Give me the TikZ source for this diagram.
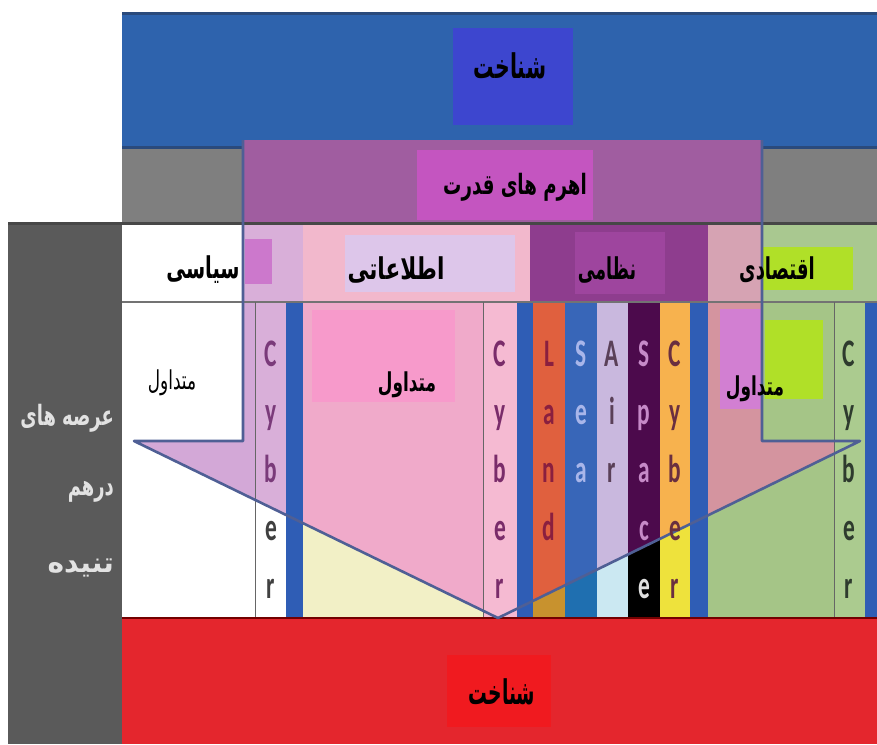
\documentclass[tikz,border=0pt]{standalone}
\usepackage{fontspec}
\usepackage{graphicx}
\setmainfont{Carlito}
\newfontfamily\fa[Script=Arabic]{DejaVu Sans}
\newfontfamily\lat{Carlito}
\TeXXeTstate=1
\newcommand\fat[3]{\scalebox{#2}[1]{\fontsize{#1}{#1}\selectfont\fa\bfseries #3}}
\newcommand\far[3]{\scalebox{#2}[1]{\fontsize{#1}{#1}\selectfont\fa #3}}
\definecolor{bandblue}{HTML}{2E63AD}
\definecolor{bandline}{HTML}{2A4A7C}
\definecolor{hiblue}{HTML}{3D46CF}
\definecolor{bandgray}{HTML}{7F7F7F}
\definecolor{grayin}{HTML}{A05DA0}
\definecolor{himag}{HTML}{C455C0}
\definecolor{darkcol}{HTML}{5A5A5A}
\definecolor{hdrA}{HTML}{D9AFD9}
\definecolor{hdrInfo}{HTML}{F2B8CC}
\definecolor{hdrMil}{HTML}{8E3D8E}
\definecolor{hdrMilHi}{HTML}{9E459E}
\definecolor{hdrEcon}{HTML}{A9C890}
\definecolor{hdrEconIn}{HTML}{D6A3B3}
\definecolor{lav}{HTML}{DDC6EA}
\definecolor{sqmag}{HTML}{CC78CC}
\definecolor{lime}{HTML}{B0E028}
\definecolor{inA}{HTML}{D3A8D7}
\definecolor{barblue}{HTML}{2F5DB5}
\definecolor{infoOut}{HTML}{F2F0C6}
\definecolor{infoIn}{HTML}{F0AACA}
\definecolor{hotpink}{HTML}{F79ACB}
\definecolor{cyPink}{HTML}{F5BAD2}
\definecolor{landOut}{HTML}{C8922E}
\definecolor{landIn}{HTML}{E0603E}
\definecolor{seaOut}{HTML}{1F6FB0}
\definecolor{seaIn}{HTML}{3866B8}
\definecolor{airOut}{HTML}{CBE8F2}
\definecolor{airIn}{HTML}{C9B8DE}
\definecolor{spaceOut}{HTML}{000000}
\definecolor{spaceIn}{HTML}{4C0A4C}
\definecolor{cybOut}{HTML}{EEE23C}
\definecolor{cybIn}{HTML}{F7B24E}
\definecolor{econOut}{HTML}{A5C587}
\definecolor{econIn}{HTML}{D4949F}
\definecolor{econMag}{HTML}{D27FD2}
\definecolor{cyGreen}{HTML}{ABCB8F}
\definecolor{redband}{HTML}{E4262D}
\definecolor{redhi}{HTML}{F01A1F}
\definecolor{outline}{HTML}{4F5F95}
\definecolor{lcPurple}{HTML}{7A3A7A}
\definecolor{lcGray}{HTML}{404040}
\definecolor{lMid}{HTML}{7A2C6A}
\definecolor{lLand}{HTML}{8A1F3F}
\definecolor{lSea}{HTML}{A9B6EA}
\definecolor{lAir}{HTML}{5A4058}
\definecolor{lSpace}{HTML}{C68AC8}
\definecolor{lSpaceE}{HTML}{E0E0E0}
\definecolor{lCyb}{HTML}{6A2F40}
\definecolor{lGreen}{HTML}{2E3B2E}
\definecolor{lefttxt}{HTML}{E2E2E2}
\begin{document}
\begin{tikzpicture}[x=1pt,y=-1pt,
  txt/.style={inner sep=0pt, text=black},
  lettr/.style={inner sep=0pt, anchor=base, font=\fontsize{39}{39}\selectfont\lat\bfseries},
  arrowline/.style={draw=outline, line width=2.6pt, line join=round}]
\useasboundingbox (0,0) rectangle (877,744);
\fill[white] (0,0) rectangle (877,744);
% top blue band
\fill[bandblue] (122,12) rectangle (877,147);
\fill[hiblue] (453,28) rectangle (573,125);
% gray band
\fill[bandgray] (122,147) rectangle (877,223);
% left dark column
\fill[darkcol] (8,223) rectangle (122,744);
% header row outside colours
\foreach \a/\b/\o in {122/303/white,303/530/hdrInfo,530/708/hdrMil,708/877/hdrEcon}
  {\fill[\o] (\a,223) rectangle (\b,302);}
% body row outside colours
\foreach \a/\b/\o in {122/255/white,255/286/white,286/303/barblue,303/483/infoOut,483/517/cyPink,517/533/barblue,533/565/landOut,565/597/seaOut,597/628/airOut,628/660/spaceOut,660/690/cybOut,690/708/barblue,708/834/econOut,834/865/cyGreen,865/877/barblue}
  {\fill[\o] (\a,302) rectangle (\b,618);}
% red band
\fill[redband] (122,618) rectangle (877,744);
\fill[redhi] (447,655) rectangle (551,727);
% inside of the arrow
\coordinate (aTL) at (243,140);
\coordinate (aTR) at (762,140);
\coordinate (aSR) at (762,441);
\coordinate (aHR) at (860,441);
\coordinate (aTip) at (498,618);
\coordinate (aHL) at (134,441);
\coordinate (aSL) at (243,441);
\begin{scope}
\clip (aTL) -- (aTR) -- (aSR) -- (aHR) -- (aTip) -- (aHL) -- (aSL) -- cycle;
\fill[grayin] (122,140) rectangle (877,223);
\foreach \a/\b/\i in {122/303/hdrA,303/530/hdrInfo,530/708/hdrMil,708/877/hdrEconIn}
  {\fill[\i] (\a,223) rectangle (\b,302);}
\fill[hdrMilHi] (575,232) rectangle (665,294);
\foreach \a/\b/\i in {122/255/inA,255/286/hdrA,286/303/barblue,303/483/infoIn,483/517/cyPink,517/533/barblue,533/565/landIn,565/597/seaIn,597/628/airIn,628/660/spaceIn,660/690/cybIn,690/708/barblue,708/834/econIn,834/865/cyGreen,865/877/barblue}
  {\fill[\i] (\a,302) rectangle (\b,618);}
\end{scope}
% highlights
\fill[himag] (417,150) rectangle (593,220);
\fill[sqmag] (245,239) rectangle (272,284);
\fill[lav] (345,235) rectangle (515,292);
\fill[lime] (762,247) rectangle (853,290);
\fill[hotpink] (312,310) rectangle (455,402);
\fill[econMag] (720,309) rectangle (762,409);
\fill[lime] (765,320) rectangle (823,399);
% separator lines
\draw[bandline, line width=3pt] (122,13) -- (877,13);
\draw[bandline, line width=3pt] (122,147) -- (243,147) (762,147) -- (877,147);
\draw[color=black!72, line width=3pt] (8,223) -- (877,223);
\draw[color=black!55, line width=2.6pt] (122,302) -- (877,302);
\draw[color=black!60, line width=0.8pt] (255,302) -- (255,618) (483,302) -- (483,618) (834,302) -- (834,618);
\draw[color=red!45!black, line width=1.5pt] (122,618) -- (877,618);
% arrow outline
\draw[arrowline] (aTL) -- (aSL) -- (aHL) -- (aTip) -- (aHR) -- (aSR) -- (aTR);
% vertical letters
\foreach \l/\c [count=\i] in {C/lcPurple,y/lcPurple,b/lcPurple,e/lcGray,r/lcGray}
  {\node[lettr, text=\c] (cyA\i) at (271,{366+58*(\i-1)}) {\scalebox{0.6}[1]{\l}};}
\foreach \l/\c [count=\i] in {C/lMid,y/lMid,b/lMid,e/lMid,r/lMid}
  {\node[lettr, text=\c] (cyB\i) at (500,{366+58*(\i-1)}) {\scalebox{0.6}[1]{\l}};}
\foreach \l/\c [count=\i] in {L/lLand,a/lLand,n/lLand,d/lLand}
  {\node[lettr, text=\c] (land\i) at (549,{366+58*(\i-1)}) {\scalebox{0.6}[1]{\l}};}
\foreach \l/\c [count=\i] in {S/lSea,e/lSea,a/lSea}
  {\node[lettr, text=\c] (sea\i) at (581,{366+58*(\i-1)}) {\scalebox{0.6}[1]{\l}};}
\foreach \l/\c [count=\i] in {A/lAir,i/lAir,r/lAir}
  {\node[lettr, text=\c] (air\i) at (612,{366+58*(\i-1)}) {\scalebox{0.6}[1]{\l}};}
\foreach \l/\c [count=\i] in {S/lSpace,p/lSpace,a/lSpace,c/lSpace,e/lSpaceE}
  {\node[lettr, text=\c] (space\i) at (644,{366+58*(\i-1)}) {\scalebox{0.6}[1]{\l}};}
\foreach \l/\c [count=\i] in {C/lCyb,y/lCyb,b/lCyb,e/lCyb,r/lCyb}
  {\node[lettr, text=\c] (cyC\i) at (675,{366+58*(\i-1)}) {\scalebox{0.6}[1]{\l}};}
\foreach \l/\c [count=\i] in {C/lGreen,y/lGreen,b/lGreen,e/lGreen,r/lGreen}
  {\node[lettr, text=\c] (cyD\i) at (849,{366+58*(\i-1)}) {\scalebox{0.6}[1]{\l}};}
% Persian texts
\node[txt] (top) at (510,66) {\fat{34}{0.6}{\beginR شناخت\endR}};
\node[txt] (levers) at (515,187) {\fat{28}{0.65}{\beginR اهرم های قدرت\endR}};
\node[txt] (pol) at (203,270) {\fat{30}{0.65}{\beginR سیاسی\endR}};
\node[txt] (info) at (396,270) {\fat{30}{0.72}{\beginR اطلاعاتی\endR}};
\node[txt] (mil) at (607,270) {\fat{30}{0.58}{\beginR نظامی\endR}};
\node[txt] (eco) at (777,270) {\fat{30}{0.6}{\beginR اقتصادی\endR}};
\node[txt] (convA) at (172,383) {\far{26}{0.65}{\beginR متداول\endR}};
\node[txt] (convB) at (407,385) {\fat{26}{0.65}{\beginR متداول\endR}};
\node[txt] (convC) at (755,389) {\fat{26}{0.65}{\beginR متداول\endR}};
\node[txt, text=lefttxt, anchor=east] (dom1) at (114,418) {\fat{28}{0.64}{\beginR عرصه های\endR}};
\node[txt, text=lefttxt, anchor=east] (dom2) at (114,492) {\fat{28}{0.64}{\beginR درهم\endR}};
\node[txt, text=lefttxt, anchor=east] (dom3) at (114,568) {\fat{28}{1.0}{\beginR تنیده\endR}};
\node[txt] (bottom) at (502,692) {\fat{34}{0.55}{\beginR شناخت\endR}};
\end{tikzpicture}
\end{document}
